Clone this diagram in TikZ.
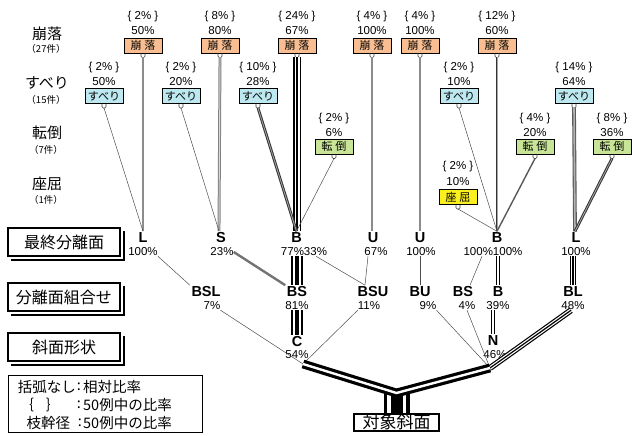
\documentclass[tikz,border=0pt]{standalone}
\usepackage{fontspec}
\setmainfont{Liberation Sans}
\newfontfamily\jp{Noto Sans CJK JP}
\definecolor{kcol}{RGB}{248,190,145}
\definecolor{scol}{RGB}{190,232,240}
\definecolor{tcol}{RGB}{200,228,150}
\definecolor{zcol}{RGB}{250,240,30}
\newcommand\mytrip[4]{\draw[black,line width=#1]#4;\draw[white,line width=#2]#4;\draw[black,line width=#3]#4;}
\newcommand\myhook[1]{\draw[black!75,line width=0.6pt,rounded corners=1.2pt]([xshift=-2pt]#1.south)--++(0,4)--++(4,0)--++(0,-4);}
\begin{document}
\begin{tikzpicture}[x=1pt,y=-1pt,
 tlabel/.style={font=\jp\fontsize{15}{15}\selectfont, inner sep=0},
 tcount/.style={font=\jp\fontsize{9.5}{10}\selectfont, inner sep=0},
 tpct/.style={font=\fontsize{11.5}{12}\selectfont, inner sep=0},
 tcat/.style={draw=black, line width=0.9pt, minimum width=38pt, minimum height=15pt, inner sep=0, font=\jp\fontsize{11}{11}\selectfont},
 tletter/.style={font=\bfseries\fontsize{14.5}{14.5}\selectfont, inner sep=1.5pt},
 lbox/.style={draw=black, line width=1.2pt, minimum width=112pt, minimum height=28pt, inner sep=0, font=\jp\fontsize{16}{16}\selectfont},
 tleg/.style={font=\jp\fontsize{14.5}{15}\selectfont, inner sep=0},
 lthin/.style={draw=black!70, line width=0.5pt},
 lgray/.style={draw=black!45, line width=1.6pt},
 lgraytwo/.style={draw=black!55, line width=2.4pt},
 lmid/.style={draw=black!65, line width=1.4pt},
 ldblg/.style={draw=black!50, line width=1pt, double=black!15, double distance=0.9pt},
 ldbld/.style={draw=black!80, line width=1pt, double=black!35, double distance=0.8pt},
 lwide/.style={draw=black!65, line width=1.1pt, double=black!30, double distance=1.6pt},
 ldblv/.style={draw=black, line width=1.3pt, double=white, double distance=1.2pt}
]
\useasboundingbox (0,0) rectangle (632,436);

% left column labels
\node[tlabel] (h1) at (47,33.5) {崩落};
\node[tcount] (c1) at (46,48.5) {（27件）};
\node[tlabel] (h2) at (47,83) {すべり};
\node[tcount] (c2) at (46,99.5) {（15件）};
\node[tlabel] (h3) at (47,133) {転倒};
\node[tcount] (c3) at (46,150) {（7件）};
\node[tlabel] (h4) at (47,184) {座屈};
\node[tcount] (c4) at (46,200) {（1件）};

% level boxes
\foreach \n/\yy/\t in {b1/242/最終分離面, b2/297/分離面組合せ, b3/347/斜面形状}{
  \node[lbox] (\n) at (64,\yy) {\t};
  \draw[black, line width=1.3pt] ([shift={(3.5pt,-3.5pt)}]\n.north east) -- ([shift={(3.5pt,-3.5pt)}]\n.south east) -- ([shift={(3.5pt,-3.5pt)}]\n.south west);
}

% legend
\node[draw, line width=1pt, minimum width=194pt, minimum height=57pt, inner sep=0] (leg) at (105,403.5) {};
\node[tleg, anchor=east] (g1a) at (76,387) {括弧なし};
\node[tleg] (g1b) at (79,387) {:};
\node[tleg, anchor=west] (g1c) at (83,387) {相対比率};
\node[tleg] (g2a) at (27,405) {｛};
\node[tleg] (g2b) at (53,405) {｝};
\node[tleg] (g2c) at (79,405) {:};
\node[tleg, anchor=west] (g2d) at (83,405) {50例中の比率};
\node[tleg] (g3a) at (48.5,423) {枝幹径};
\node[tleg] (g3b) at (80,423) {:};
\node[tleg, anchor=west] (g3c) at (83,423) {50例中の比率};

% category boxes
\foreach \n/\xx/\ta/\tb in {k1/143/2/50, k2/220/8/80, k3/297/24/67, k4/372/4/100, k5/420/4/100, k6/497/12/60}{
  \node[tcat, fill=kcol] (\n) at (\xx,45.5) {崩\hspace{3pt}落};
  \node[tpct] (\n a) at (\xx,17) {\{ \ta\% \}};
  \node[tpct] (\n b) at (\xx,30.5) {\tb\%};
  \myhook{\n}
}
\foreach \n/\xx/\ta/\tb in {s1/104/2/50, s2/181/2/20, s3/258/10/28, s4/459/2/10, s5/574/14/64}{
  \node[tcat, fill=scol] (\n) at (\xx,96) {すべり};
  \node[tpct] (\n a) at (\xx,68) {\{ \ta\% \}};
  \node[tpct] (\n b) at (\xx,82) {\tb\%};
  \myhook{\n}
}
\foreach \n/\xx/\ta/\tb in {t1/334/2/6, t2/535/4/20, t3/612/8/36}{
  \node[tcat, fill=tcol] (\n) at (\xx,146.5) {転\hspace{3pt}倒};
  \node[tpct] (\n a) at (\xx,118.5) {\{ \ta\% \}};
  \node[tpct] (\n b) at (\xx,132.5) {\tb\%};
  \myhook{\n}
}
\node[tcat, fill=zcol] (z1) at (458,197) {座\hspace{3pt}屈};
\node[tpct] (z1a) at (458,167) {\{ 2\% \}};
\node[tpct] (z1b) at (458,182) {10\%};
\myhook{z1}

% level 1 letters
\foreach \n/\xx/\t in {nL1/143/L, nS/221/S, nB1/296.5/B, nU1/373/U, nU2/420/U, nB2/497/B, nL2/576/L}{
  \node[tletter] (\n) at (\xx,238) {\t};
}
\node[tpct] (pL1) at (143,252) {100\%};
\node[tpct] (pS) at (222,252) {23\%};
\node[tpct] (pB1) at (304,252) {77\%33\%};
\node[tpct] (pU1) at (376,252) {67\%};
\node[tpct] (pU2) at (421,252) {100\%};
\node[tpct] (pB2) at (493,252) {100\%100\%};
\node[tpct] (pL2) at (576,252) {100\%};

% level 2
\foreach \n/\xx/\t in {nBSL/206/BSL, nBS/297/BS, nBSU/373/BSU, nBU/420/BU, nBS2/463/BS, nB3/498/B, nBL/573/BL}{
  \node[tletter] (\n) at (\xx,292) {\t};
}
\node[tpct] (pBSL) at (212,306) {7\%};
\node[tpct] (pBS) at (297,306) {81\%};
\node[tpct] (pBSU) at (369,306) {11\%};
\node[tpct] (pBU) at (428,306) {9\%};
\node[tpct] (pBS2) at (467,306) {4\%};
\node[tpct] (pB3) at (498,306) {39\%};
\node[tpct] (pBL) at (573,306) {48\%};

% level 3
\node[tletter] (nC) at (297,342) {C};
\node[tpct] (pC) at (297,355) {54\%};
\node[tletter] (nN) at (493,341) {N};
\node[tpct] (pN) at (495,355) {46\%};

\coordinate (Cj) at (303,364);
\coordinate (Nj) at (490,368);
\coordinate (V) at (396.5,393);

% base
\node[draw, line width=2pt, minimum width=85pt, minimum height=17pt, inner sep=0, font=\jp\fontsize{17}{17}\selectfont] (base) at (396.5,422.5) {対象斜面};

% top-level connectors
\draw[lgray] ([yshift=-4pt]k1.south) -- (k1.south |- nL1.north);
\draw[lthin] ([yshift=-4pt]s1.south) -- (nL1.north);
\draw[ldblg] ([yshift=-4pt]k2.south) -- ([xshift=-2pt]nS.north);
\draw[lthin] ([yshift=-4pt]s2.south) -- ([xshift=-2pt]nS.north);
\mytrip{8pt}{5pt}{2pt}{([yshift=-4pt]k3.south) -- (k3.south |- nB1.north)}
\draw[ldbld] ([yshift=-4pt]s3.south) -- (nB1.north);
\draw[lthin] ([yshift=-4pt]t1.south) -- (nB1.north);
\draw[lgray] ([yshift=-4pt]k4.south) -- (k4.south |- nU1.north);
\draw[lgray] ([yshift=-4pt]k5.south) -- (k5.south |- nU2.north);
\draw[ldbld] ([yshift=-4pt]k6.south) -- (nB2.north);
\draw[lthin] ([yshift=-4pt]s4.south) -- (nB2.north);
\draw[lthin] ([yshift=-4pt]z1.south) -- (nB2.north);
\draw[lmid] ([yshift=-4pt]t2.south) -- (nB2.north);
\draw[lwide] ([yshift=-4pt]s5.south) -- ([xshift=-1pt]nL2.north);
\draw[ldbld] ([yshift=-4pt]t3.south) -- ([xshift=-1pt]nL2.north);

% level1 -> level2
\draw[lthin] (pL1.south east) -- (nBSL.north west);
\draw[lgraytwo] (pS.east) -- (nBS.north west);
\mytrip{12pt}{7.5pt}{3.5pt}{(nBS.north |- pB1.south) -- (nBS.north)}
\draw[lthin] ([xshift=12pt]pB1.south) -- ([xshift=-8pt]nBSU.north);
\draw[lthin] ([xshift=-8pt]pU1.south) -- ([xshift=-8pt]nBSU.north);
\draw[lthin] (nBU.north |- pU2.south) -- (nBU.north);
\draw[lthin] ([xshift=-11pt]pB2.south) -- ([xshift=7pt]nBS2.north);
\draw[ldblv] (nB3.north |- pB2.south) -- (nB3.north);
\mytrip{6pt}{3.6pt}{1.2pt}{(nBL.north |- pL2.south) -- (nBL.north)}

% level2 -> level3
\draw[lthin] (pBSL.south east) -- (Cj);
\mytrip{12pt}{7.5pt}{3.5pt}{(nC.north |- pBS.south) -- (nC.north)}
\draw[lthin] (pBSU.south west) -- (Cj);
\draw[lthin] (pBU.south east) -- (Nj);
\draw[lthin] (pBS2.south) -- (Nj);
\draw[ldblv] (nN.north |- pB3.south) -- (nN.north);
\mytrip{6pt}{3.6pt}{1.2pt}{([xshift=-2pt]pBL.south) -- (Nj)}

% trunk
\mytrip{26pt}{19pt}{12pt}{(V) -- (base.north)}
\draw[black, line width=3.2pt, double=white, double distance=2.4pt] (Cj) -- (V) -- (Nj);
\end{tikzpicture}
\end{document}
